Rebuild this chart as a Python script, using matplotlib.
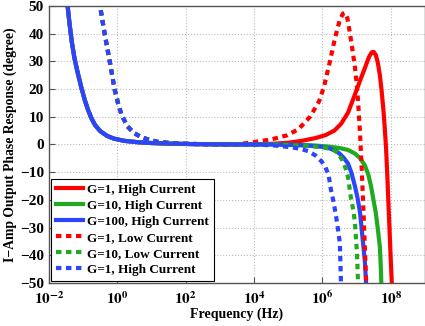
import matplotlib
matplotlib.use('Agg')
import matplotlib.pyplot as plt
import numpy as np

# phase response, x values are log10(frequency in Hz)
solid_lo_x = [-1.47, -1.4, -1.33, -1.25, -1.15, -1.05, -0.95, -0.85, -0.75, -0.65, -0.5, -0.3, -0.1, 0.2, 0.6, 1.0, 1.6, 2.3, 3.0, 4.0]
solid_lo_y = [52, 44, 37, 31, 25.5, 20.5, 16, 12.3, 9.3, 7.0, 4.8, 3.1, 2.1, 1.3, 0.8, 0.5, 0.25, 0.1, 0.03, 0]
dot_lo_x = [-0.53, -0.37, -0.22, -0.08, 0.02, 0.13, 0.3, 0.48, 0.7, 0.95, 1.2, 1.7, 2.5, 3.5]
dot_lo_y = [52, 40, 30, 20, 15, 10.5, 6.5, 4.2, 2.6, 1.6, 0.9, 0.35, 0.08, 0]

g1_hi_x = [4.5, 5.0, 5.4, 5.8, 6.1, 6.35, 6.55, 6.75, 6.95, 7.1, 7.24, 7.36, 7.44, 7.5, 7.56, 7.62, 7.68, 7.73, 7.78, 7.82, 7.86, 7.9, 7.95, 8.0, 8.04]
g1_hi_y = [0.2, 0.6, 1.3, 2.3, 3.4, 5.0, 7.5, 11.5, 18.0, 23.0, 27.5, 31.5, 33.2, 33.4, 32.3, 29.5, 25.0, 19.5, 13.0, 6.5, -1.0, -12, -27, -42, -53]
g10_hi_x = [4.5, 5.3, 5.78, 6.2, 6.5, 6.75, 6.95, 7.1, 7.24, 7.34, 7.42, 7.5, 7.56, 7.62, 7.68, 7.71, 7.73]
g10_hi_y = [0, -0.2, -0.4, -0.8, -1.3, -2.0, -3.3, -5.0, -7.5, -10.8, -15, -20.5, -24.6, -30.5, -37, -45, -53]
g100_hi_x = [4.5, 5.2, 5.67, 6.0, 6.2, 6.37, 6.5, 6.62, 6.75, 6.85, 6.95, 7.03, 7.1, 7.18, 7.24, 7.29]
g100_hi_y = [0, -0.2, -0.5, -0.9, -1.4, -2.2, -3.3, -4.8, -6.9, -10.3, -15, -19.5, -24.6, -34.5, -42, -53]

g1_lo_x = [3.5, 3.98, 4.5, 4.97, 5.3, 5.64, 5.9, 6.05, 6.22, 6.37, 6.51, 6.6, 6.66, 6.73, 6.8, 6.88, 6.95, 7.0, 7.04, 7.1, 7.15, 7.2, 7.24, 7.29]
g1_lo_y = [0, 0.8, 1.8, 3.3, 5.5, 10, 15.5, 21, 30, 38.5, 45, 47.2, 47.5, 45.5, 40.5, 34, 28, 22, 16, 4, -9, -24, -37, -53]
g10_lo_x = [4.5, 5.5, 6.0, 6.3, 6.45, 6.58, 6.67, 6.75, 6.83, 6.9, 6.95, 7.01, 7.05]
g10_lo_y = [0, -0.5, -1.0, -1.8, -3.0, -5.7, -8.3, -11.8, -19, -23.5, -28, -39, -53]
g1b_lo_x = [4.0, 4.6, 5.08, 5.35, 5.58, 5.8, 5.98, 6.08, 6.18, 6.25, 6.33, 6.4, 6.46, 6.51, 6.55]
g1b_lo_y = [0, -0.4, -1, -1.6, -2.4, -4.0, -6.2, -8, -11, -16.4, -21, -26, -31, -35.6, -53]

labels = ['G=1, High Current', 'G=10, High Current', 'G=100, High Current',
          'G=1, Low Current', 'G=10, Low Current', 'G=1, High Current']

red = '#ff0000'
green = '#1faa1f'
blue = '#2a44ff'

plt.rcParams['font.family'] = ['Liberation Serif', 'DejaVu Serif']
plt.rcParams['font.weight'] = 'bold'
plt.rcParams['mathtext.fontset'] = 'stix'

fig = plt.figure(figsize=(4.25, 3.26), dpi=100)
ax = fig.add_axes([0.115, 0.132, 0.885, 0.85])

dots = (0, (1.3, 1.1))
curves = [
    (solid_lo_x, solid_lo_y, g1_hi_x, g1_hi_y, red, '-'),
    (solid_lo_x, solid_lo_y, g10_hi_x, g10_hi_y, green, '-'),
    (solid_lo_x, solid_lo_y, g100_hi_x, g100_hi_y, blue, '-'),
    (dot_lo_x, dot_lo_y, g1_lo_x, g1_lo_y, red, dots),
    (dot_lo_x, dot_lo_y, g10_lo_x, g10_lo_y, green, dots),
    (dot_lo_x, dot_lo_y, g1b_lo_x, g1b_lo_y, blue, dots),
]
for (lx, ly, hx, hy, c, ls), lab in zip(curves, labels):
    x = 10.0 ** np.array(lx + hx)
    y = np.array(ly + hy)
    ax.plot(x, y, color=c, linestyle=ls, linewidth=3, label=lab,
            solid_joinstyle='round', dash_joinstyle='round')

ax.set_xscale('log')
ax.set_xlim(1e-2, 1e9)
ax.set_ylim(-50, 50)
ax.set_xticks([10.0 ** k for k in range(-2, 9, 2)])
ax.set_xticklabels([r'$\mathbf{10^{%d}}$' % k for k in range(-2, 9, 2)])
ax.xaxis.set_minor_locator(matplotlib.ticker.NullLocator())
ax.set_yticks(range(-50, 51, 10))
ax.tick_params(direction='in', length=4, labelsize=11, width=0.8, color='#555555')
ax.tick_params(axis='x', pad=5)
for lab in ax.get_yticklabels():
    lab.set_fontweight('bold')
ax.grid(True, linestyle=':', color='#bbbbbb', linewidth=0.8)
for s in ax.spines.values():
    s.set_color('#555555')
    s.set_linewidth(1.0)

ax.set_xlabel('Frequency (Hz)', fontsize=10, fontweight='bold', labelpad=0)
ax.set_ylabel('I\u2212Amp Output Phase Response (degree)', fontsize=9.8, fontweight='bold', labelpad=2)

leg = ax.legend(loc='lower left', fontsize=9.5, handlelength=2.0, handletextpad=0.35,
                borderpad=0.4, labelspacing=0.28, fancybox=False, framealpha=1,
                borderaxespad=0.15)
leg.get_frame().set_edgecolor('black')
leg.get_frame().set_linewidth(0.8)
for t in leg.get_texts():
    t.set_fontweight('bold')

fig.savefig('out.png', dpi=100)
